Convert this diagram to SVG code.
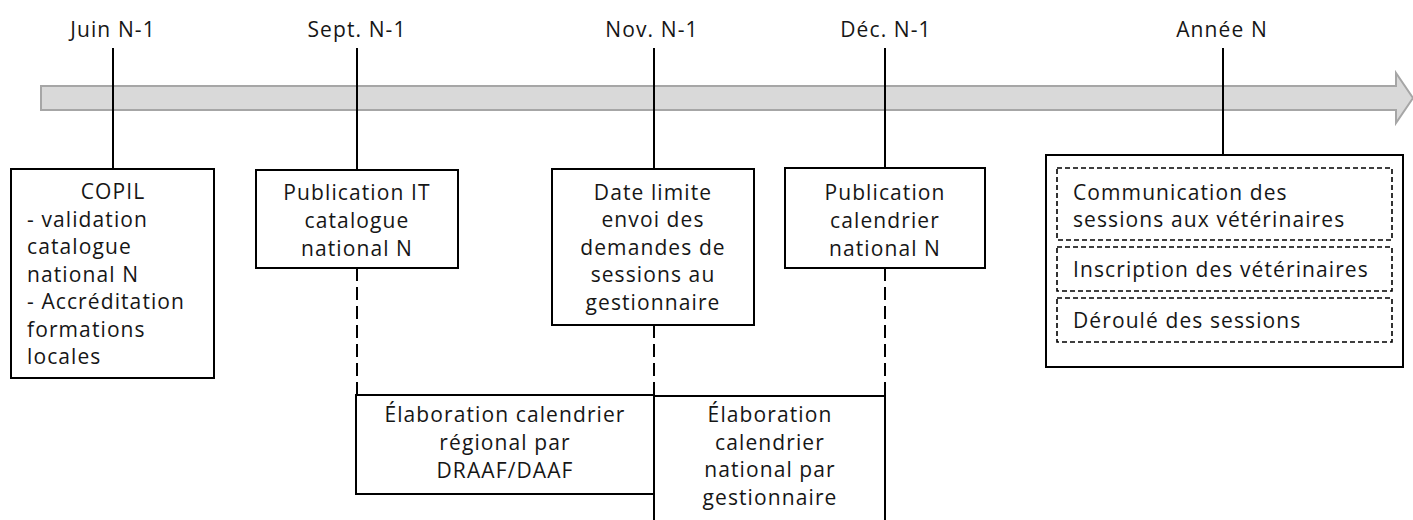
<svg xmlns="http://www.w3.org/2000/svg" width="1413" height="520" viewBox="0 0 1413 520">
<style>
text{font-family:"Open Sans","Liberation Sans",sans-serif;font-size:21px;letter-spacing:1.1px;fill:#161616}
.c{text-anchor:middle}
.box{fill:#fff;stroke:#000;stroke-width:2}
.dbox{fill:none;stroke:#000;stroke-width:1.6;stroke-dasharray:5 3}
.tick{stroke:#000;stroke-width:2}
.dash{stroke:#000;stroke-width:2;stroke-dasharray:13 6}
</style>
<rect width="1413" height="520" fill="#fff"/>
<g id="timeline">
<path d="M41,86 H1396 V73 L1413,98 L1396,123 V110 H41 Z" fill="#d9d9d9" stroke="#a6a6a6" stroke-width="2"/>
</g>
<g id="connectors">
<line class="tick" x1="113" y1="48" x2="113" y2="169"/>
<line class="tick" x1="357" y1="48" x2="357" y2="170"/>
<line class="tick" x1="654" y1="48" x2="654" y2="169"/>
<line class="tick" x1="885" y1="48" x2="885" y2="168"/>
<line class="tick" x1="1223" y1="48" x2="1223" y2="155"/>
<line class="dash" x1="357" y1="268" x2="357" y2="395"/>
<line class="dash" x1="654" y1="325" x2="654" y2="395"/>
<line class="dash" x1="885" y1="268" x2="885" y2="395"/>
</g>
<g id="labels">
<text class="c" x="113" y="37">Juin N-1</text>
<text class="c" x="357" y="37">Sept. N-1</text>
<text class="c" x="652" y="37">Nov. N-1</text>
<text class="c" x="886" y="37">Déc. N-1</text>
<text class="c" x="1222" y="37">Année N</text>
</g>
<g id="copil">
<rect class="box" x="11" y="169" width="203" height="209"/>
<text class="c" x="113" y="199">COPIL</text>
<text x="27" y="227">- validation</text>
<text x="27" y="254">catalogue</text>
<text x="27" y="282">national N</text>
<text x="27" y="309">- Accréditation</text>
<text x="27" y="337">formations</text>
<text x="27" y="364">locales</text>
</g>
<g id="publication-it">
<rect class="box" x="256" y="170" width="202" height="98"/>
<text class="c" x="357" y="200">Publication IT</text>
<text class="c" x="357" y="228">catalogue</text>
<text class="c" x="357" y="256">national N</text>
</g>
<g id="date-limite">
<rect class="box" x="552" y="169" width="202" height="156"/>
<text class="c" x="653" y="200">Date limite</text>
<text class="c" x="653" y="227">envoi des</text>
<text class="c" x="653" y="255">demandes de</text>
<text class="c" x="653" y="282">sessions au</text>
<text class="c" x="653" y="310">gestionnaire</text>
</g>
<g id="publication-calendrier">
<rect class="box" x="785" y="168" width="200" height="100"/>
<text class="c" x="885" y="200">Publication</text>
<text class="c" x="885" y="228">calendrier</text>
<text class="c" x="885" y="256">national N</text>
</g>
<g id="annee-n">
<rect class="box" x="1046" y="155" width="357" height="212"/>
<rect class="dbox" x="1057" y="168" width="335" height="72"/>
<rect class="dbox" x="1057" y="247" width="335" height="44"/>
<rect class="dbox" x="1057" y="298" width="335" height="44"/>
<text x="1073" y="200">Communication des</text>
<text x="1073" y="227">sessions aux vétérinaires</text>
<text x="1073" y="277">Inscription des vétérinaires</text>
<text x="1073" y="328">Déroulé des sessions</text>
</g>
<g id="elaboration-regional">
<rect class="box" x="356" y="395" width="298" height="99"/>
<text class="c" x="505" y="422">Élaboration calendrier</text>
<text class="c" x="505" y="450">régional par</text>
<text class="c" x="505" y="478">DRAAF/DAAF</text>
</g>
<g id="elaboration-national">
<rect class="box" x="654" y="396" width="231" height="140"/>
<text class="c" x="770" y="422">Élaboration</text>
<text class="c" x="770" y="450">calendrier</text>
<text class="c" x="770" y="477">national par</text>
<text class="c" x="770" y="505">gestionnaire</text>
</g>
</svg>
